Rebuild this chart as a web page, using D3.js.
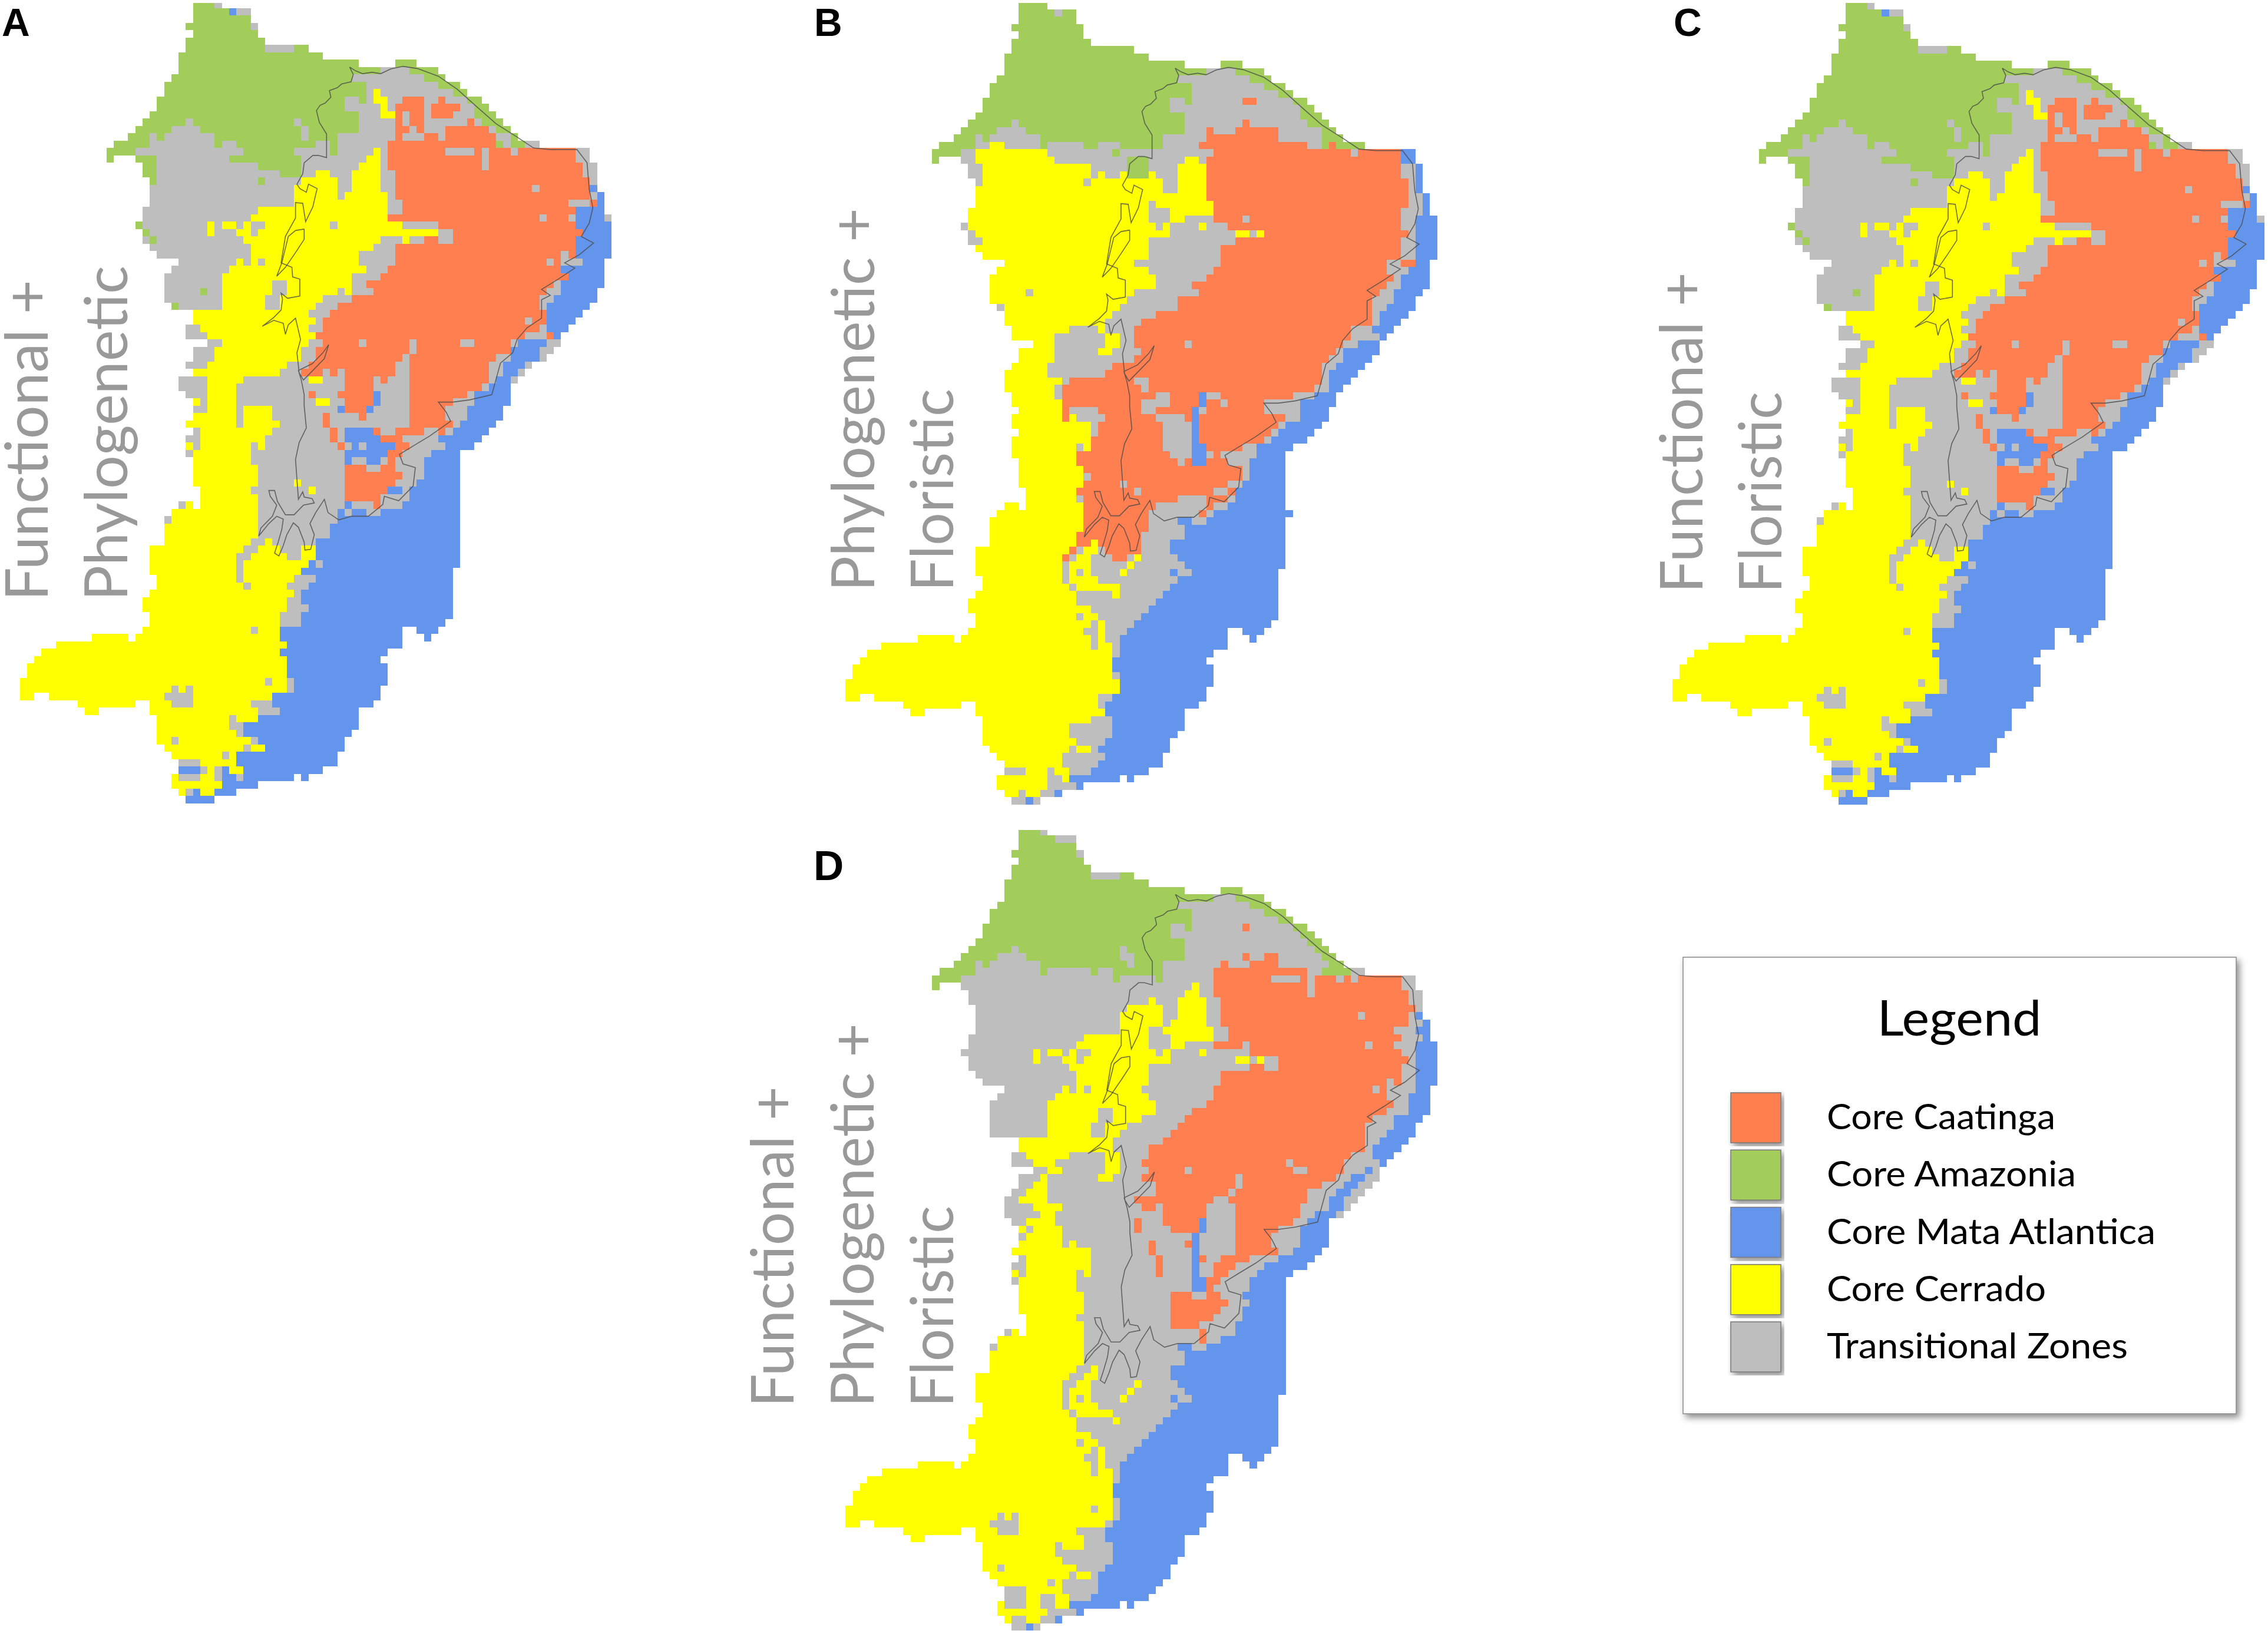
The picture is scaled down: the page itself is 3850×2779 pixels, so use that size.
<!DOCTYPE html>
<html>
<head>
<meta charset="utf-8">
<script src="https://cdn.jsdelivr.net/npm/d3@7"></script>
<style>
  html, body { margin: 0; background: #fff; }
  svg { display: block; }
</style>
</head>
<body>
<svg id="chart" width="3850" height="2779"></svg>
<script>
// grid cells per row: letter = class, number = run length, _ = empty
const legendLabels = ['Core Caatinga', 'Core Amazonia', 'Core Mata Atlantica', 'Core Cerrado', 'Transitional Zones'];
const legendKeys = ['O', 'G', 'B', 'Y', 'T'];
const legendColors = ['#ff7f50', '#a2cd5a', '#6495ed', '#ffff00', '#bebebe'];

const rowsA = [
'_24G3T1','_24G5B1T2','_24G8','_23G9T1','_24G9','_23G11','_23G11T4G2','_22G20','_22G25_5G3','_22G28T4G4',
'_21G25T10G3','_20G28T10G3','_20G28T1Y1T10G2','_19G26T2G1T1Y2T2O3T2O1T3G2','_19G26T5Y1T1O4T1O4T2G2','_18G29T3Y2O1T1O2T1O3T3G3',
'_17G6T1G14T1G8T5O1T1O2T6O1T1G3','_16G5T4G14T1G7T5O2T1O1T3O6T1G2','_15G3T1G1T7G12T1G4T8O1T3O2T1O7T2G1','_13G5T9G1T2G11T2G1T7O15G1T1G2T2',
'_12G4T15G7T5G1T5Y1T1O8T4O1T1O3T1O8T2','_12G1_3G3T10G10T9Y2T1O13T1O12T2','_17G2T14G6T8Y3T1O13T1O13T2','_17G2T17G3T2Y2T3Y4T2O26T2',
'_18G1T14G1T5Y5T2Y4T2O27T1','_18T20Y6T2Y4T2O19T1O7B1','_18T20Y6T1Y6T1O27T1B1','_18T20Y13T2O23T3O1B1','_17T16Y18T2O24B4','_17T15Y19O21T1O3T1B4T1',
'_16G1T9Y1T1Y2T1Y1T2Y9T1Y9T5O19B5','_17G1T8Y1T3Y2T1Y25T2O18B4','_17T1G1T12Y19T3Y1T2O2T2O17B5','_18T14Y17T3O25B5','_19T13Y15T5O23T1O1B5',
'_22T8Y1T1Y1T1Y13T5O21T1O1T3B3','_21T8Y19T3O24B6','_20T8Y18T4O26B5','_20T8Y7T2Y9T2O26T1B6','_20T5G1T2Y7T2Y7T1Y1T3O24T2B5',
'_20T8Y6T2Y6T4O26T2B6','_21G1T6Y6T2Y5T3O28T1B6','_24Y16T3O30B5','_24Y17T1O28T1O2B4','_23T2Y15T2O30T1B3','_23T3Y15O29T3O1B1',
'_26T2Y12T2O5T1O6T1O6T2O5T1B4T2','_24T3Y12T2O13T1O13B4T2','_24T3Y12T2O12T1O12T2B4T1','_23T3Y11T3O12T2O11T2B3T1',
'_24Y12T3O3T1O1T1O7T2O11T2B2T1','_22T4Y5T9Y2T3O4T1O1T3O11T1B2T1','_22T4Y4T15O4T5O10T1B3','_23T3Y4T10O1T3O5B1T4O8T1B5','_24Y1T1Y4T11Y2T2O4B1T4O6T3B5',
'_24T2Y4T1Y4T9B1O3B1T5O5T3B5','_24Y6T1Y4T7O1T4O1T6O5T3B5','_23Y7T1Y5T6O1T11O6T1B5','_24T1Y10T8O1T1B4O1T2O4T2O1T1B5','_23T2Y9T9O1T1B5O3T5B6',
'_23Y1T1Y7T1Y1T10O1T1B1T1B4O2T5B4','_23T1Y8T13B6O2T4B4','_24Y8T13B1T2B2T1O1T4B5','_24Y9T12O3T2O2T4B5','_24Y9T12O8T3B5','_24Y9T5Y1T6O7T3B6',
'_25Y7T8Y1T4O6B2T1B7','_25Y8T12O5T4B7','_22T1Y1_1Y8T12B1T3O1T3B8','_21Y12T11B1T1B2T2B11','_20T1Y12T11B17','_20Y13T10B18','_20Y13T10B18',
'_20Y12T2Y1T6B20','_18Y13T2Y3T3Y2B20','_18Y12T2Y5T2Y2B20','_18Y12T1Y9B1T1B19','_18Y12T1Y8B21','_19Y11T1Y7T3B19','_19Y12T1Y5T3B20',
'_18Y20T1B21','_17Y20T2B21','_17Y20T3B20','_18Y18T3B21','_18Y18T3B20','_17Y15T1Y3B17_2B3','_10Y5_1Y20B17_3B1','_5Y32B16','_3Y33B15','_2Y35B13',
'_1Y36B14','_1Y36B14','Y34T1Y2T1B13','Y21T1Y1T1Y13T1B12','Y2_2Y16T4Y11B15','_8Y8_2Y3T3Y8T3B14','_9Y2_7Y15T3B11','_19Y10T1Y3B14','_19Y10T2B16','_19Y11T1B15',
'_19Y2T1Y10T1B12','_20Y11T1Y2B11','_21Y7T1Y1B14','_22T3Y5B14','_22B3T1Y1T1B1Y2B11','_21Y1T3Y2T1B2T1B7_1B1','_21Y7B5','_22Y1T1B1Y2B3','_23B4'
];

const rowsB = [
'_24G4','_24G5T1G2','_24G8','_23G10','_24G9','_23G11','_23G17','_22G20','_22G25_5G3','_22G28T4G4',
'_21G25T10G3','_20G28T10G3','_20G28T12G2','_19G26T2G1T7O2T5G2','_19G26T18G2','_18G29T16G3','_17G6T1G23T8O1T8G3','_16G5T4G22T3O1T3O6T6G2',
'_15G3T1G1T7G17T6O10T6G3','_13G5T2Y2T5G1T5G2T3G6T5O15T2G1O1G4','_12G4T2Y10T9G1T13O19T1O6B2','_12G1_3T2Y11T10G3T5Y2T1O27B2','_17T2Y15T5G3T4Y4O27T2B1',
'_17T2Y15T1Y1T2Y1G3Y1T3Y4O27T2B1','_18T1Y14T1Y10T2Y4O28T1B1','_18Y26T2Y4O28T1B1','_18Y32O28T2B1','_18Y24T1Y8O27T2B1','_17Y25T3Y6O26T3B1','_17Y25T3Y2T4O4T1O21T2B3',
'_16T1Y26T1Y1T4Y1T3O24T2B3','_17T1Y27T9Y2T1Y1O20T1B3','_17T2Y23T12O23T2B3','_18Y24T10O25T2B3','_19Y23T10O25T2B3','_22Y18T12O23T2O2B2','_21Y21T9O24T3B3',
'_20Y23T7O26T1B4','_20Y23T5O27T2B4','_20Y5T1Y14T9O25T2B4','_20Y19T7O27T3B3','_21T1Y16T8O27T2B4','_22Y15T6O30T1B4','_22Y14T5O32T1B3','_23Y8T4Y1T4O30T3B3',
'_23Y6T7Y2T2O30T4B1','_26Y3T7Y2T2O7T1O21T2B3','_24Y5T6Y2T4O27T1B5','_24Y5T11O27T2B4','_23Y5T9O29T2B4','_22Y6T8O30T1B4','_22Y8T1O9T2O24T1B3','_22Y7T1O11T1O23T2B2',
'_23Y6T1O13T2O4B1T2O10T3B3','_23Y7O11T4O4B1O2T1O5T5B5','_24Y6O1T4O6T2O5B1T1O8T5B4',
'_23Y7O1Y1T4O7T4O1B1O12T2B4','_23Y11T1O9T4B1O11T1B5','_24Y10T1O9T4B1O10T1B5','_23Y11O10T4B1O9T1B5','_23Y9T1Y1O10T4B2O5T2B5','_23Y9O13T3B2T1O1T5B4',
'_24Y8O14T1O1B2O3T3B5','_24Y9O22T1B5','_24Y9T1O21T1B5','_24Y9O5T1O14T2B6','_25Y7O8T1O10T2O1B7','_25Y7T1O13T4O3T1B7','_22Y2_1Y8O10T7O1T2B8','_21Y12O9T7O1T1B11',
'_20Y13O9T4B2T2B11','_20Y13O9T5B14','_20Y12O9T6B14','_20Y12O2Y1O6T4B16','_18Y13O1T1Y2T1O5T4B16','_18Y12O1T1Y2T3O2T1Y1T5B15','_18Y12T1Y3T5Y1T7B14','_18Y12T1Y1T1Y1T4Y1T6B1T2B12',
'_19Y11T1Y4T11B14','_19Y12T1Y6T7B15','_18Y14T5Y1T6B16','_17Y15T11B17','_17Y17T8B18','_18Y14T1Y2T6B19','_18Y16T1Y1T4B19','_17Y16T2Y1T3B14_2B3','_10Y5_1Y18T1Y1T2B15_3B1',
'_5Y29T1Y2T1B15','_3Y34T1B13','_2Y35B13','_1Y36B14','_1Y36T1B13','Y38B13','Y38B12','Y2_2Y31T2B13','_8Y8_2Y17T1B13','_9Y2_7Y18B11','_19Y15T3B10','_19Y12T6B10','_19Y12T6B9',
'_19Y13T4B9','_20Y11T1Y2T1B10','_21Y9T6B8','_22Y8T5B9','_22T3Y3T1Y2T3B8','_21Y7T2Y1B7_1B1','_21Y7T4B1','_22Y2T1Y2T2B1','_23T2B1T1'
];

// panel C reads the same as panel A cell for cell
const rowsC = rowsA;

const rowsD = [
'_24G3T1','_24G5T3','_24G8','_23G9T1','_24G9','_23G11','_23G11T4G2','_22G20','_22G25_5G3','_22G29T3G4',
'_21G25T10G3','_20G28T10G3','_20G28T12G2','_19G26T2G1T7O1T6G2','_19G26T18G2','_18G29T17G2','_17G6T1G14T1G8T18G2','_16G5T4G13T2G7T8O1T2O2T6G2',
'_15G3T1G1T7G12T1G4T8O1T3O4T7G2','_13G5T9G1T6G1T2G7T7O13T2G4T2','_12G4T21G1T5G1T7O8T4O1T1O3T1O1T1O6T2','_12G1_3T32Y1T2O13T1O12T2','_17T30Y2T2O13T1O13T2',
'_17T25Y1T3Y4T2O26T2','_18T21Y5T2Y4T2O27T1','_18T20Y6T2Y4T2O19T1O6T1B1','_18T20Y6T1Y5T2O26T2B1','_18T20Y4T2Y7T2O23T3B2','_17T16Y9T3Y6T2O24T3B1',
'_17T15Y10T3Y2T4O4T1O16T1O3T3B3','_16T10Y1T1Y2T1Y1T2Y9T1Y1T4Y1T6O21T2B3','_17T9Y1T3Y2T1Y12T9Y2T1Y1T2O18T1B3','_17T14Y11T14O2T2O17T2B3','_18T14Y10T10O25T2B3',
'_19T13Y10T10O23T1O1T2B3','_22T8Y1T1Y1T1Y7T10O22T1O1T4B2','_21T8Y13T9O24T3B3','_20T8Y15T7O26T2B3','_20T8Y7T2Y6T5O27T3B3','_20T8Y7T2Y4T6O26T3B4',
'_20T8Y6T2Y3T7O26T4B3','_20T8Y6T2Y2T7O27T3B4','_24Y13T7O28T2B4','_24Y13T5O30T1B4','_23T2Y6T5Y2T4O28T3B3','_23T3Y3T7Y2T3O20T1O7T5B1',
'_26T2Y2T6Y2T4O5T1O14T2O5T3B1T1','_24T3Y1T7Y2T4O13T1O13T2B2T2','_24T2Y2T15O11T1O11T3B2T2','_23T2Y3T15O10T1O10T4B2T2','_22T2Y4T12O11T2O11T3B2T2',
'_22T4Y4T11O2T1O6T4O9T4B2T1','_22T5Y2T15O6T4O9T2B3T1','_23T2Y4T11O1T3O5B1T4O8T2B3','_24Y1T1Y4T10O1T4O4B1T4O6T3B4','_24T1Y5T18B1T5O5T4B4',
'_24Y6T1Y1T10O1T4O1B1T5O5T4B4','_23Y11T8O1T5B1T5O6T2B4','_24T1Y9T9O1T4B1O1T2O4T4B5','_23T2Y9T9O1T4B1T2O3T4B6','_23Y1T1Y7T1Y1T9O1T4B1T2O2T4B5',
'_23T1Y8T16B2O2T4B5','_24Y8T16B2O1T5B5','_24Y9T12O3T2O2T3B6','_24Y9T12O8T3B5','_24Y9T12O7T3B6','_25Y7T13O6T4B6','_25Y8T12O4T5B7','_22T1Y1_1Y8T16O1T4B7',
'_21Y12T16O1T2B9','_20T1Y12T13B2T2B11','_20Y13T14B14','_20Y13T14B14','_20Y12T2Y1T10B16','_18Y13T2Y2T10B16','_18Y12T2Y2T6Y1T5B15','_18Y12T1Y3T5Y1T7B14',
'_18Y12T1Y1T1Y1T4Y1T6B1T2B12','_19Y11T1Y4T11B14','_19Y12T1Y5T8B15','_18Y14T5Y1T6B16','_17Y15T11B17','_17Y17T8B18','_18Y14T1Y2T6B19','_18Y16T1Y1T4B19',
'_17Y16T2Y1T3B14_2B3','_10Y5_1Y18T1Y1T2B15_3B1','_5Y29T1Y2T1B15','_3Y34T1B13','_2Y35B13','_1Y36B14','_1Y36T1B13','Y34T1Y2T1B13','Y21T1Y1T1Y13T1B12',
'Y2_2Y16T4Y12T1B13','_8Y8_2Y3T3Y8T4B13','_9Y2_7Y15T3B11','_19Y10T1Y3T4B10','_19Y10T8B10','_19Y11T7B9','_19Y2T1Y10T4B9','_20Y11T1Y2T1B10','_21Y7T1Y1T5B9',
'_22T3Y5T5B8','_22T3Y2T2Y2T3B8','_21Y1T3Y2T2Y2B7_1B1','_21Y7T4B1','_22Y1T2Y2T2B1','_23T2B1T1'
];

// Caatinga outline in grid units [column, row]
const outline = [
[45.7,9],[46.5,9.5],[47.5,9.9],[48.8,9.7],[50,9.9],[51.4,9.25],[53.1,8.9],[55.1,9.2],[58,10.25],[60.6,12],[63.1,14.2],[66,16.7],[68.9,18.5],[71.2,20],[73.5,20.2],[77.2,20.2],
[78.6,22],[78.9,25.6],[79.4,28.1],[78.9,30.2],[77.8,32],[79.5,32.9],[77.5,34.5],[75.5,35.6],[76.9,36.3],[74.6,37.8],[72.3,39.2],[73.5,40],[72.3,40.6],[72.3,43.1],
[70.3,44.4],[68.9,46],[68.3,47.8],[66.6,49.2],[65.4,53.5],[62.3,54.2],[60,54.5],[58,54.5],[59.1,55.9],[59.7,57.1],[56.8,59.1],[54.6,60.4],[52.6,61.6],[53.1,62.9],
[54.8,63.4],[54.5,65.9],[52.5,67.9],[50.5,67.3],[50.3,68.4],[48.3,70],[46,70],[44.2,70.5],[42.7,69.5],[42.2,67.7],[41,69.5],[40.2,71],[40.8,72.5],[40.3,74.5],
[39.5,74.6],[39.4,73.5],[38.6,71.5],[37.9,70.9],[37,72.5],[36.5,74],[35.9,75.4],[35.3,75],[35.8,73.5],[36.3,71.8],[36.5,70.4],[35.6,70],[34.5,71],[33.1,72.7],
[33.4,71.6],[35,70],[35.6,68.5],[34.7,67.3],[34.5,66.5],[35.3,66.5],[35.7,68],[36.8,69.8],[38,69.8],[39.3,68.5],[40.8,68.2],[40.5,67.6],[39.4,67.4],[39.2,66.7],
[38.6,67.7],[38.4,65],[38.2,62.3],[38.7,60],[39.7,58],[39.4,55],[39.4,53.5],[39,51.5],[38.6,50.2],[40.5,49.3],[42,47.8],[42.8,46.7],[42.2,48.6],[40.8,50],[39.3,51.5],
[38.7,50.5],[38.4,47.8],[38.9,46],[38.2,43.1],[37.2,44],[36.8,45.3],[36.5,43.8],[35.2,43.4],[33.6,44.2],[35.2,43],[36.2,42],[36.4,40.5],[36.2,39.7],[37.1,40.4],
[38.8,40.1],[38.8,37.8],[37.8,37.5],[37.7,36.2],[36.2,35.6],[36.8,32],[38.2,29.5],[38.2,27.4],[39.2,27.5],[39.6,30],[40.6,28],[41,26.3],[41.2,25.5],[40,24.9],
[39.7,26],[38.8,25.5],[38.4,24.9],[39.2,23.5],[39.4,22],[40.6,21],[41.4,21],[42.5,21.3],[42.5,18.1],[41.5,16.5],[41.1,14.9],[41.6,14.2],[42.3,13.9],[43.1,13.1],
[42.9,12.2],[44,11.8],[44.6,11.3],[45.9,11],[46.2,10],[45.7,9]
];
const lake = [[39.4,31],[38.2,31.2],[37.2,32],[36.3,35.6],[35.6,37.4],[36.8,36.2],[38.2,34.2],[39.4,32.4],[39.4,31]];

const panelNames = ['A', 'B', 'C', 'D'];
const panelRows = [rowsA, rowsB, rowsC, rowsD];
const panelLines = [
  ['Functional +', 'Phylogenetic'],
  ['Phylogenetic +', 'Floristic'],
  ['Functional +', 'Floristic'],
  ['Functional +', 'Phylogenetic +', 'Floristic']
];

const W = 3850, H = 2779;
const svg = d3.select('#chart');
svg.append('rect').attr('width', W).attr('height', H).attr('fill', '#fff');

const defs = svg.append('defs');
const f = defs.append('filter').attr('id', 'shadow')
  .attr('x', '-5%').attr('y', '-5%').attr('width', '112%').attr('height', '112%');
f.append('feDropShadow').attr('dx', 5).attr('dy', 6).attr('stdDeviation', 6)
  .attr('flood-color', '#000').attr('flood-opacity', .45);

const CELL_W = 12.25, CELL_H = 12.5, NCOL = 82, NROW = 109;
const colorOf = d3.scaleOrdinal().domain(legendKeys).range(legendColors);

function parseRow(str) {
  const runs = [];
  let c = 0;
  for (const m of str.matchAll(/([_GBYOT])(\d+)/g)) {
    const n = +m[2];
    if (m[1] !== '_') runs.push({ key: m[1], c, n });
    c += n;
  }
  return runs;
}

// layout of each panel: grid origin, top clip, letter and side label positions
const layout = {
  A: { x0: 33.7, y0: 1.34, top: 4.5, lx: 3, ly: 61, text: [[81, 1020, 545], [216, 1020, 569]] },
  B: { x0: 1435, y0: 3.1, top: 4.5, lx: 1382, ly: 61, text: [[1484, 1004, 651], [1617.5, 1004, 344]] },
  C: { x0: 2839, y0: 3.1, top: 4.5, lx: 2841, ly: 61, text: [[2890, 1007, 545], [3024, 1007, 342]] },
  D: { x0: 1435.4, y0: 1405.8, top: 1409, lx: 1381, ly: 1494, text: [[1347, 2389, 545], [1483, 2389, 652], [1618, 2389, 342]] }
};

panelNames.forEach((name, i) => {
  const p = layout[name];
  const g = svg.append('g').attr('class', 'panel-' + name);
  const x = d3.scaleLinear().domain([0, NCOL]).range([p.x0, p.x0 + NCOL * CELL_W]);
  const y = d3.scaleLinear().domain([0, NROW]).range([p.y0, p.y0 + NROW * CELL_H]);

  const cells = panelRows[i].flatMap((str, r) => parseRow(str).map(d => ({ ...d, r })));
  g.append('g').selectAll('rect').data(cells).join('rect')
    .attr('x', d => x(d.c))
    .attr('y', d => Math.max(y(d.r), p.top))
    .attr('width', d => x(d.c + d.n) - x(d.c))
    .attr('height', d => y(d.r + 1) - Math.max(y(d.r), p.top))
    .attr('fill', d => colorOf(d.key))
    .attr('shape-rendering', 'crispEdges');

  const line = d3.line().x(d => x(d[0])).y(d => y(d[1]));
  g.append('g').selectAll('path').data([outline, lake]).join('path')
    .attr('d', line)
    .attr('fill', 'none').attr('stroke', '#4a4a4a').attr('stroke-width', 1.6).attr('stroke-opacity', .8);

  g.append('text').attr('x', p.lx).attr('y', p.ly)
    .attr('font-family', '"Liberation Sans", sans-serif').attr('font-weight', 700)
    .attr('font-size', name === 'D' ? 71 : 66).attr('fill', '#000').text(name);

  panelLines[i].forEach((txt, k) => {
    const [bx, by, len] = p.text[k];
    g.append('text').attr('transform', `translate(${bx},${by}) rotate(-90)`)
      .attr('font-family', 'Lato, sans-serif').attr('font-size', 100).attr('fill', '#999')
      .attr('textLength', len).attr('lengthAdjust', 'spacingAndGlyphs').text(txt);
  });
});

// legend box
const legend = svg.append('g').attr('class', 'legend');
legend.append('rect').attr('x', 2857).attr('y', 1625).attr('width', 939).attr('height', 775)
  .attr('fill', '#fff').attr('stroke', '#888').attr('stroke-width', 1.5).attr('filter', 'url(#shadow)');
legend.append('text').attr('x', 3326).attr('y', 1758).attr('text-anchor', 'middle')
  .attr('font-family', 'Lato, sans-serif').attr('font-size', 84).attr('fill', '#000')
  .attr('textLength', 279).attr('lengthAdjust', 'spacingAndGlyphs').text('Legend');

const legendTextLen = [388, 423, 558, 372, 511];
const legendY = d3.scalePoint().domain(legendLabels).range([1855, 2244]);
legendLabels.forEach((lab, i) => {
  legend.append('rect').attr('x', 2938).attr('y', legendY(lab)).attr('width', 85).attr('height', 85)
    .attr('fill', legendColors[i]).attr('stroke', '#777').attr('stroke-width', 1.5).attr('filter', 'url(#shadow)');
  legend.append('text').attr('x', 3101).attr('y', legendY(lab) + 62)
    .attr('font-family', 'Lato, sans-serif').attr('font-size', 60).attr('fill', '#000')
    .attr('textLength', legendTextLen[i]).attr('lengthAdjust', 'spacingAndGlyphs').text(lab);
});
</script>
</body>
</html>
